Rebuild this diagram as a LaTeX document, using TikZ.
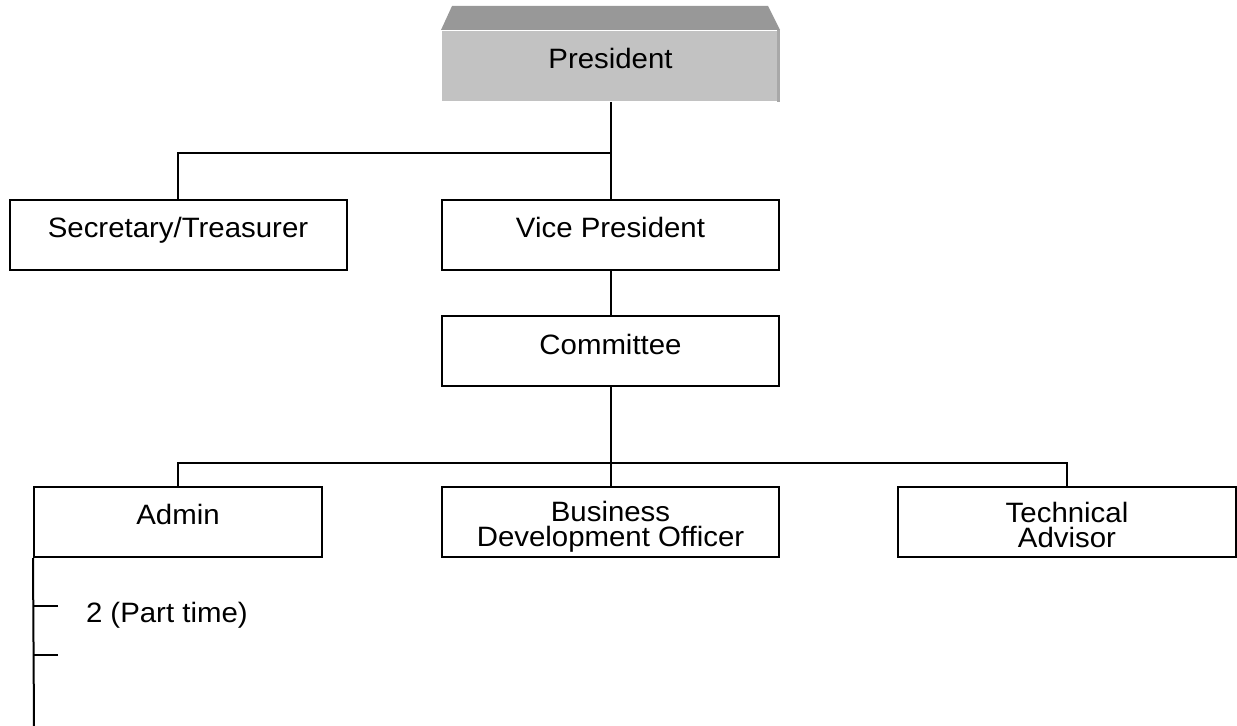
\documentclass[tikz,border=0pt]{standalone}
\usepackage{fontspec}
\setmainfont{Liberation Sans}[FakeStretch=1.05]
\usetikzlibrary{positioning}

\definecolor{facegray}{RGB}{194,194,194}
\definecolor{topgray}{RGB}{152,152,152}
\definecolor{edgegray}{RGB}{168,168,168}

\begin{document}
\begin{tikzpicture}[x=0.5pt, y=-0.5pt, line width=1pt,
    font=\fontsize{14}{12.5}\selectfont]

    \tikzset{
        box/.style = {draw, rectangle, inner sep=0pt, align=center,
                      minimum width=168.5pt, minimum height=35pt},
        onerow/.style = {text height=10pt, text depth=7pt},
        tworow/.style 2 args = {label={[align=center, yshift=#1]center:{#2}}}
    }

    \useasboundingbox (0,0) rectangle (1237,726);

    % president, with its raised top
    \node (pres) at (610.5,66) [box, draw=none, fill=facegray, onerow] {President};
    \fill[topgray] (pres.north west) -- ([shift={(11,-24)}]pres.north west)
        -- ([shift={(-12,-24)}]pres.north east) -- (pres.north east) -- cycle;
    \fill[edgegray] ([xshift=-1.5pt]pres.north east) rectangle (pres.south east);

    % second row
    \node (sec) at (178,235)   [box, onerow] {Secretary/Treasurer};
    \node (vp)  at (610.5,235) [box, onerow] {Vice President};

    \node (comm) at (610.5,351.5) [box, onerow] {Committee};

    % bottom row
    \node (admin) at (178,522)   [box, onerow, minimum width=144pt] {Admin};
    \node (bdo)   at (610.5,522) [box, tworow={-2.2pt}{Business\\Development Officer}] {};
    \node (tech)  at (1067,522)  [box, minimum width=169pt,
                                  tworow={-1.5pt}{Technical\\Advisor}] {};

    \coordinate (fork1) at (610.5,153);
    \coordinate (fork2) at (610.5,463);

    \draw (pres) -- (vp);
    \draw (sec) |- (fork1);
    \draw (vp) -- (comm);
    \draw (comm) -- (bdo);
    \draw (admin) |- (fork2) -| (tech);

    % staff under admin
    \coordinate (t1) at (58,606);
    \coordinate (t2) at (58,655);
    \coordinate (bottom) at (34,726);

    \draw (admin.south west) -- (bottom);
    \draw (t1) -- (t1 -| admin.west);
    \draw (t2) -- (t2 -| admin.west);

    \node (part) at ([shift={(27,17)}]t1) [anchor=base west, inner sep=0pt] {2 (Part time)};

\end{tikzpicture}
\end{document}
